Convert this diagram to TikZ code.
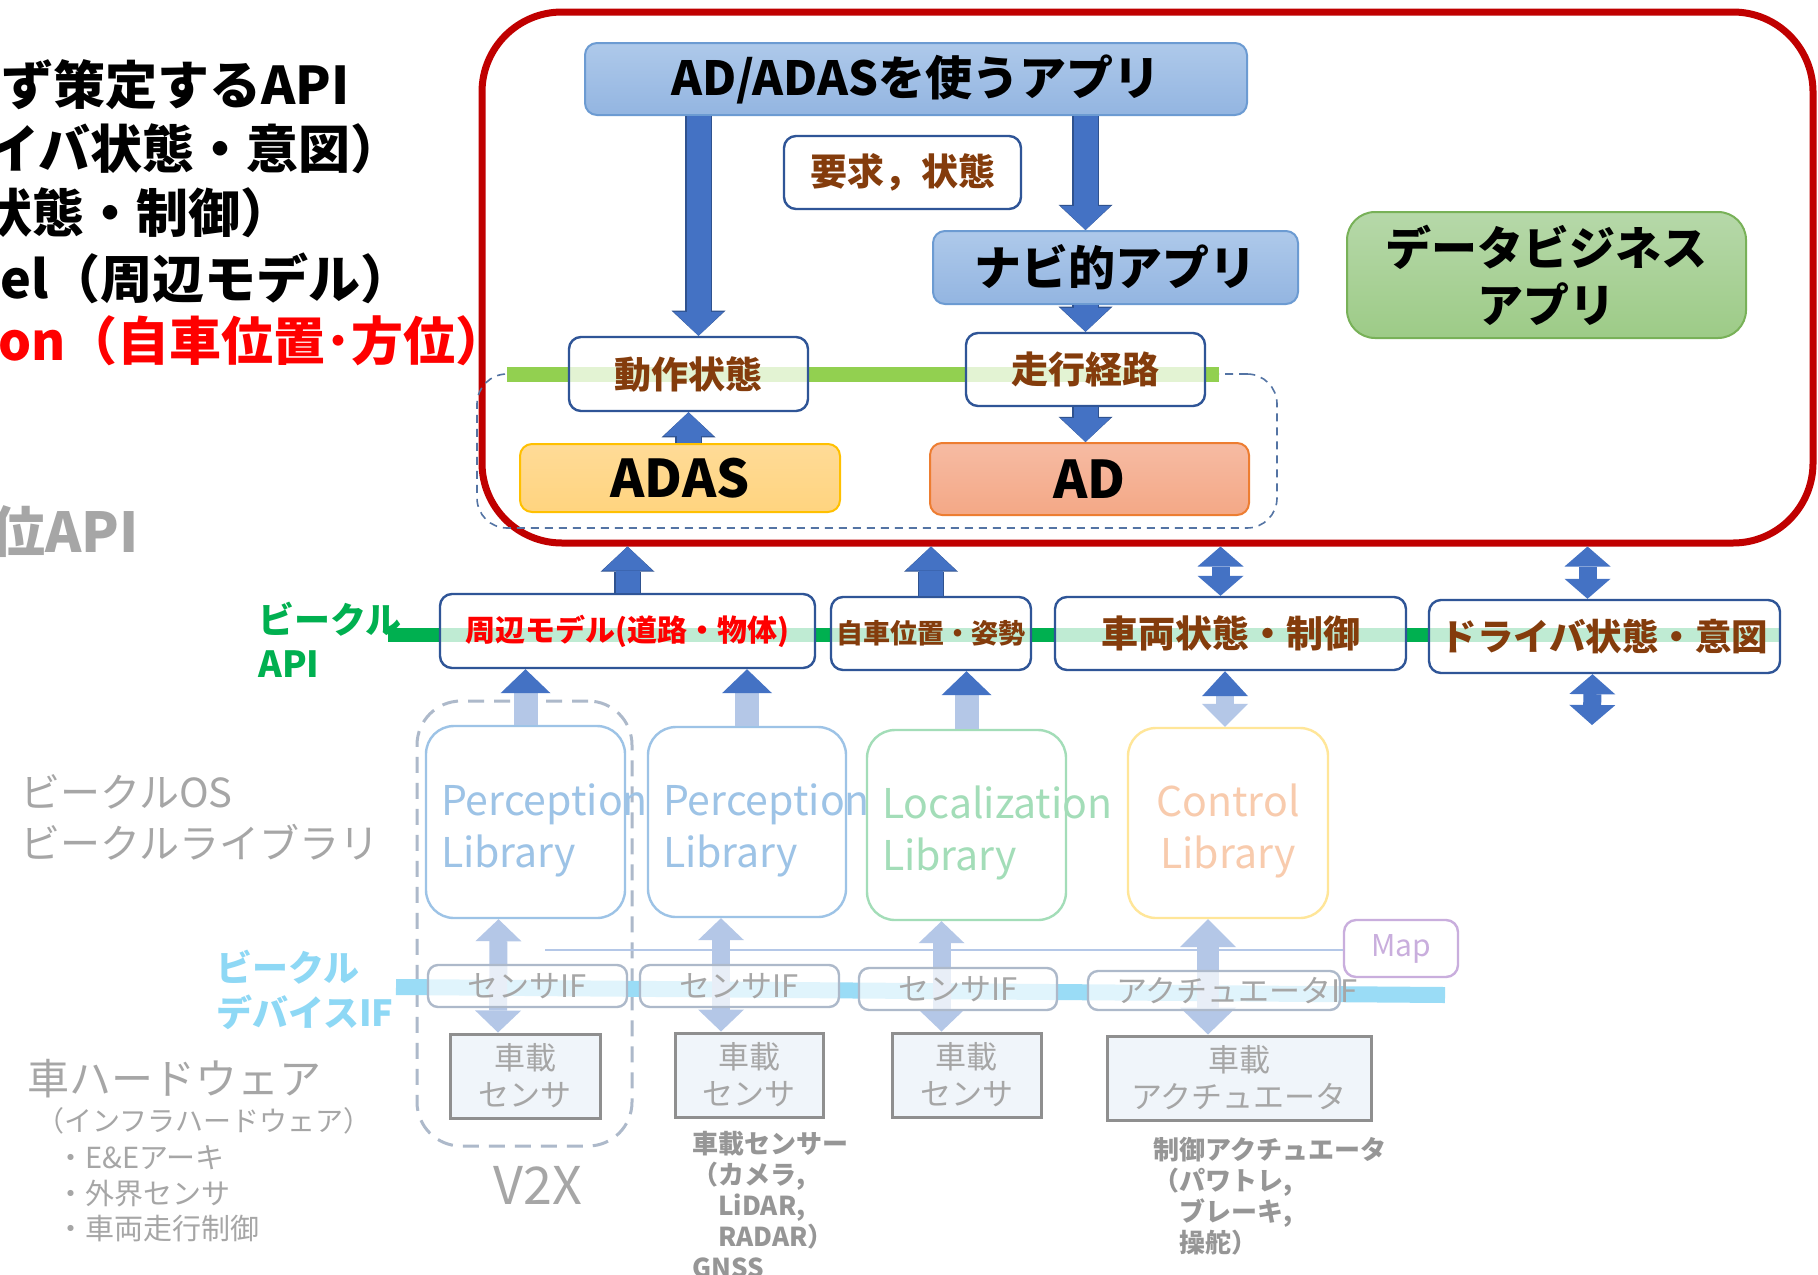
\documentclass[tikz,border=0pt]{standalone}
\usepackage{fontspec}
\setmainfont{Noto Sans CJK JP}
\usetikzlibrary{arrows.meta, positioning}

\definecolor{framered}{HTML}{C00000}
\definecolor{arrowblue}{HTML}{4472C4}
\definecolor{arrowedge}{HTML}{2F528F}
\definecolor{paleblue}{HTML}{B4C7E7}
\definecolor{navyline}{HTML}{2F5597}
\definecolor{textbrown}{HTML}{843C0C}
\definecolor{apigreen}{HTML}{00B050}
\definecolor{limegreen}{HTML}{92D050}
\definecolor{devblue}{HTML}{9ADCF6}
\definecolor{devtext}{HTML}{8ED8F5}
\definecolor{fadegrey}{HTML}{A6A6A6}
\definecolor{notegrey}{HTML}{969696}
\definecolor{libblue}{HTML}{9DC3E6}
\definecolor{libgreen}{HTML}{A3DDB8}
\definecolor{libyellow}{HTML}{FFE699}
\definecolor{libpeach}{HTML}{F8CBAD}
\definecolor{ifgrey}{HTML}{ADB9CA}
\definecolor{sensgrey}{HTML}{8F8F8F}
\definecolor{sensfill}{HTML}{F0F5FA}
\definecolor{mappurple}{HTML}{C9AEDD}
\definecolor{apptop}{HTML}{AEC9EA}
\definecolor{appbot}{HTML}{93B5E1}
\definecolor{appedge}{HTML}{6C9BD2}
\definecolor{biztop}{HTML}{B6D8A9}
\definecolor{bizbot}{HTML}{9DCB87}
\definecolor{bizedge}{HTML}{78B158}
\definecolor{adastop}{HTML}{FFDB97}
\definecolor{adasbot}{HTML}{FFD47F}
\definecolor{adasedge}{HTML}{FFC000}
\definecolor{adtop}{HTML}{F6BBA3}
\definecolor{adbot}{HTML}{F4A886}
\definecolor{adedge}{HTML}{ED7D31}
\definecolor{coredash}{HTML}{5474A4}

% extra room above the first line of a library label
\newcommand{\libtop}{\rule{0pt}{24pt}}

\begin{document}
\begin{tikzpicture}[
    x=0.5pt, y=-0.5pt,
    lbl/.style={inner sep=0pt, align=left},
    appbox/.style={draw=appedge, line width=1pt, rounded corners=6pt, top color=apptop, bottom color=appbot, inner sep=0pt, font=\bfseries\fontsize{23.5}{28}\selectfont},
    bizbox/.style={appbox, draw=bizedge, top color=biztop, bottom color=bizbot, rounded corners=14pt, align=center},
    statebox/.style={draw=navyline, line width=1.2pt, rounded corners=6pt, fill=white, fill opacity=0.75, text opacity=1, text=textbrown, inner sep=0pt, font=\bfseries\fontsize{18.5}{22}\selectfont},
    corebox/.style={draw=#1, line width=1pt, rounded corners=6pt, inner sep=0pt, font=\bfseries\fontsize{26}{30}\selectfont},
    libbox/.style={draw=#1, text=#1, line width=1.2pt, rounded corners=14pt, inner xsep=7.5pt, inner ysep=0pt, align=left, font=\fontsize{20.5}{26}\selectfont},
    ifbox/.style={draw=ifgrey, line width=1.2pt, rounded corners=5pt, fill=white, fill opacity=0.7, text opacity=1, text=fadegrey, inner sep=0pt, font=\fontsize{15.5}{18}\selectfont},
    sensbox/.style={draw=sensgrey, line width=1.5pt, fill=sensfill, text=fadegrey, inner sep=0pt, align=center, font=\fontsize{15.5}{18.5}\selectfont},
    note/.style={lbl, text=notegrey, font=\bfseries\fontsize{13}{15.5}\selectfont},
    fatarrow/.style={arrowblue, line width=12pt, -{Triangle[length=12pt, width=25pt, line width=0pt]},
        preaction={draw=arrowedge, line width=13.2pt, -{Triangle[length=12.6pt, width=27pt, line width=0pt]}}},
    dblarrow/.style={arrowblue, line width=9pt, {Triangle[length=10pt, width=23pt, line width=0pt]}-{Triangle[length=10pt, width=23pt, line width=0pt]}},
    libarrow/.style={paleblue, line width=12pt, -{Triangle[length=12pt, width=25pt, line width=0pt, color=arrowblue]}},
    paledbl/.style={paleblue, line width=9pt, {Triangle[length=11pt, width=23pt, line width=0pt]}-{Triangle[length=11pt, width=23pt, line width=0pt]}}
]
\fill[white] (0,0) rectangle (1818,1274);
\useasboundingbox (0,0) rectangle (1818,1274);

% headline list, cut at the left edge
\node[lbl, anchor=east, font=\bfseries\fontsize{26}{30}\selectfont] (head1) at (350,85) {ず策定するAPI};
\node[lbl, anchor=east, font=\bfseries\fontsize{26}{30}\selectfont] (head2) at (403,149) {イバ状態・意図）};
\node[lbl, anchor=east, font=\bfseries\fontsize{26}{30}\selectfont] (head3) at (293,213) {状態・制御）};
\node[lbl, anchor=west, font=\bfseries\fontsize{26}{30}\selectfont] (head4) at (0,278) {el（周辺モデル）};
\node[lbl, anchor=west, red, font=\bfseries\fontsize{26}{30}\selectfont] (head5) at (-2,341) {on（自車位置･方位）};
\node[lbl, anchor=east, fadegrey, font=\bfseries\fontsize{27.5}{30}\selectfont] (head6) at (139,532) {位API};

% application zone
\node[draw=framered, line width=3.5pt, rounded corners=40pt, minimum width=665.5pt, minimum height=265.5pt] (appzone) at (1147.5,277.5) {};
\coordinate (stateL) at (507,374);
\node[draw=coredash, line width=0.8pt, dash pattern=on 4pt off 3pt, rounded corners=15pt, minimum width=400pt, minimum height=77pt] (core) at (877,451) {};
\draw[limegreen, line width=7.5pt] (stateL) -- (1219,374);

\node[appbox, minimum width=331pt, minimum height=36pt] (app) at (916,79) {AD/ADASを使うアプリ};
\node[statebox, minimum width=118.5pt, minimum height=36.5pt] (req) at (902.5,172.5) {要求，状態};
\node[appbox, minimum width=182.5pt, minimum height=36.5pt] (navi) at (1115.5,267.5) {ナビ的アプリ};
\node[bizbox, minimum width=199.5pt, minimum height=63pt, font=\bfseries\fontsize{23}{28.5}\selectfont] (biz) at (1546.5,275) {データビジネス\\アプリ};
\node[statebox, minimum width=119.5pt, minimum height=37pt] (act) at (688.5,374) {動作状態};
\node[statebox, minimum width=119.5pt, minimum height=36.5pt] (route) at (1085.5,369.5) {走行経路};
\node[corebox=adasedge, top color=adastop, bottom color=adasbot, minimum width=160pt, minimum height=34pt] (adas) at (680,478) {ADAS};
\node[corebox=adedge, top color=adtop, bottom color=adbot, minimum width=159.5pt, minimum height=36pt] (ad) at (1089.5,479) {AD};

\draw[fatarrow] ([xshift=5pt]act.north |- app.south) -- ([xshift=5pt]act.north);
\draw[fatarrow] (route.north |- app.south) -- (route.north |- navi.north);
\draw[fatarrow] (route.north |- navi.south) -- (route.north);
\draw[fatarrow] (route.south) -- (route.south |- ad.north);
\draw[fatarrow] (act.south |- adas.north) -- (act.south);

% vehicle API
\coordinate (apiL) at (388,635);
\draw[apigreen, line width=7pt] (apiL) -- (1780,635);
\node[lbl, text=apigreen, font=\bfseries\fontsize{18}{22}\selectfont, anchor=west] (apilabel) at (258,640) {ビークル\\API};
\node[statebox, text=red, minimum width=187.5pt, minimum height=37pt, font=\bfseries\fontsize{15}{18}\selectfont] (env) at (627.5,631) {周辺モデル(道路・物体)};
\node[statebox, minimum width=100pt, minimum height=36.5pt, font=\bfseries\fontsize{13.5}{16}\selectfont] (pose) at (931,633.5) {自車位置・姿勢};
\node[statebox, minimum width=175.5pt, minimum height=36.5pt] (vstate) at (1230.5,633.5) {車両状態・制御};
\node[statebox, minimum width=175.5pt, minimum height=36.5pt, font=\bfseries\fontsize{18.25}{22}\selectfont] (driver) at (1604.5,636.5) {ドライバ状態・意図};

\draw[fatarrow] (env.north) -- (env.north |- appzone.south);
\draw[fatarrow] (pose.north) -- (pose.north |- appzone.south);
\draw[dblarrow] ([xshift=-5pt]vstate.north) -- ([xshift=-5pt]vstate.north |- appzone.south);
\draw[dblarrow] ([xshift=-8.5pt]driver.north) -- ([xshift=-8.5pt]driver.north |- appzone.south);
\coordinate (drvfree) at (1592,725);
\draw[dblarrow] ([xshift=-6pt]driver.south) -- (drvfree);

% vehicle OS / libraries
\node[lbl, text=fadegrey, font=\fontsize{20}{25.5}\selectfont, anchor=west] (oslabel) at (20,817) {ビークルOS\\ビークルライブラリ};
\node[draw=ifgrey, line width=1.5pt, dash pattern=on 8pt off 5pt, rounded corners=22pt, minimum width=107.5pt, minimum height=222.5pt] (v2x) at (524.5,923.5) {};
\node[libbox=libblue, text width=84.5pt, minimum height=96pt] (per1) at (525.5,822) {\libtop Perception\\Library};
\node[libbox=libblue, text width=84pt, minimum height=95pt] (per2) at (747,822) {\libtop Perception\\Library};
\node[libbox=libgreen, text width=84.5pt, minimum height=95pt] (loc) at (966.5,825) {\libtop Localization\\Library};
\node[libbox=libyellow, text=libpeach, align=center, text width=85pt, minimum height=95pt] (ctrl) at (1228,823) {\libtop Control\\Library};

\draw[libarrow] (per1.north) -- (per1.north |- env.south);
\draw[libarrow] (per2.north) -- (per2.north |- env.south);
\draw[libarrow] (loc.north) -- (loc.north |- pose.south);
\draw[paleblue, line width=9pt, {Triangle[length=11.5pt, width=23pt, line width=0pt]}-{Triangle[length=12.5pt, width=23pt, line width=0pt, color=arrowblue]}] ([xshift=-1.5pt]ctrl.north) -- ([xshift=-1.5pt]ctrl.north |- vstate.south);

% vehicle device IF
\node[lbl, text=devtext, font=\bfseries\fontsize{18}{22.5}\selectfont, anchor=west] (devlabel) at (216,990) {ビークル\\デバイスIF};
\coordinate (devL) at (396,987);
\coordinate (busL) at (545,950);
\node[draw=mappurple, text=mappurple, line width=1.2pt, rounded corners=6pt, fill=white, minimum width=57pt, minimum height=28.5pt, font=\fontsize{15}{18}\selectfont] (map) at (1401,948.5) {Map};
\draw[paleblue, line width=1pt] (busL) -- (busL -| map.west);
\draw[devblue, line width=8pt] (devL) -- (1445,995);

\node[sensbox, minimum width=75pt, minimum height=42pt] (sen1) at (525,1076) {車載\\センサ};
\node[sensbox, minimum width=74pt, minimum height=42pt] (sen2) at (749,1075) {車載\\センサ};
\node[sensbox, minimum width=74.5pt, minimum height=42pt] (sen3) at (966.5,1075) {車載\\センサ};
\node[sensbox, minimum width=132pt, minimum height=42pt] (actr) at (1239,1078) {車載\\アクチュエータ};

\draw[paledbl] ([xshift=-13.5pt]per1.south) -- ([xshift=-13.5pt]sen1.north);
\draw[paledbl] ([xshift=-13pt]per2.south) -- ([xshift=-14pt]sen2.north);
\draw[paledbl] ([xshift=-12.5pt]loc.south) -- ([xshift=-12.5pt]sen3.north);
\draw[paledbl, line width=11pt, {Triangle[length=14pt, width=28pt, line width=0pt]}-{Triangle[length=13.5pt, width=28pt, line width=0pt]}] ([xshift=-10pt]ctrl.south) -- ([xshift=-10pt]ctrl.south |- actr.north);

\node[ifbox, minimum width=99.5pt, minimum height=21pt] (if1) at (527.5,986) {センサIF};
\node[ifbox, minimum width=99.5pt, minimum height=21pt] (if2) at (739.5,986) {センサIF};
\node[ifbox, minimum width=99pt, minimum height=21pt] (if3) at (958,989) {センサIF};
\node[ifbox, inner xsep=14pt, text width=98pt, align=left, minimum height=19.5pt] (ifact) at (1214,990.5) {アクチュエータIF};

% vehicle hardware
\node[lbl, text=fadegrey, font=\fontsize{21}{25}\selectfont, anchor=west] (hwlabel) at (27,1079) {車ハードウェア};
\node[lbl, text=fadegrey, font=\fontsize{14}{17}\selectfont, anchor=west] (infra) at (36,1121) {（インフラハードウェア）};
\node[lbl, text=fadegrey, font=\fontsize{14.5}{17.75}\selectfont, anchor=west] (hwlist) at (56,1194) {・E\&Eアーキ\\・外界センサ\\・車両走行制御};
\node[lbl, text=fadegrey, font=\fontsize{26}{30}\selectfont] (v2xlabel) at (538,1185) {V2X};
\node[note, anchor=west] (camnote) at (692,1205) {車載センサー\\（カメラ,\\\hspace*{13pt}LiDAR,\\\hspace*{13pt}RADAR）\\GNSS};
\node[note, anchor=west] (actnote) at (1153,1196) {制御アクチュエータ\\（パワトレ,\\\hspace*{13pt}ブレーキ,\\\hspace*{13pt}操舵）};

\end{tikzpicture}
\end{document}
